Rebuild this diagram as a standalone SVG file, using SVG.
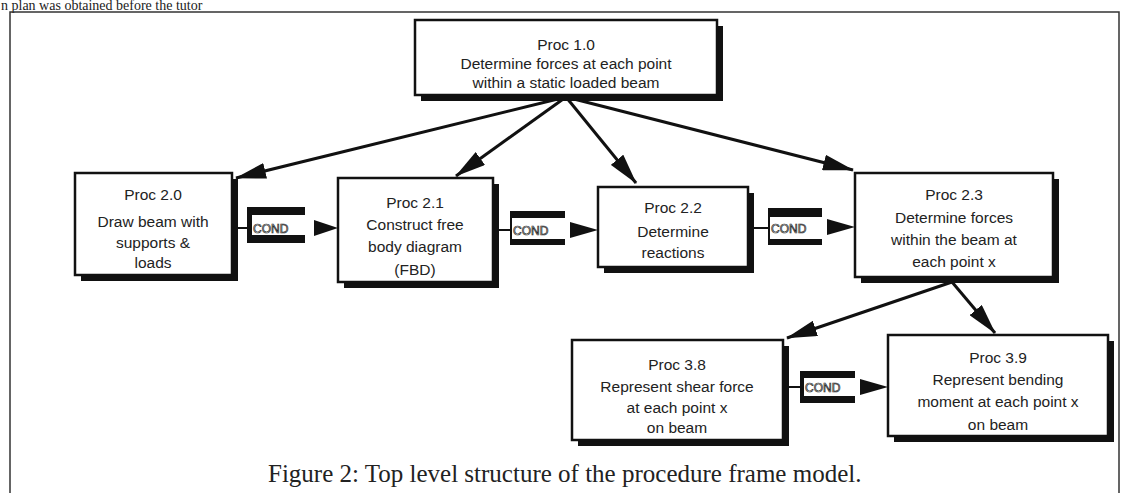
<svg xmlns="http://www.w3.org/2000/svg" width="1128" height="493" viewBox="0 0 1128 493">
<style>
.shadow{fill:#111}
.box{fill:#fff;stroke:#111;stroke-width:2.5}
.t{font-family:"Liberation Sans",Arial,sans-serif;font-size:15.5px;fill:#222;text-anchor:middle}
.cond-bar{fill:#111}
.cond-t{font-family:"Liberation Sans",Arial,sans-serif;font-size:12px;fill:#fff;stroke:#222;stroke-width:0.7}
.ln{stroke:#111;stroke-width:3;fill:none}
.thin{stroke:#111;stroke-width:2;fill:none}
.head{fill:#111}
.cap{font-family:"Liberation Serif","Times New Roman",serif;font-size:25px;fill:#222}
</style>
<defs>
<marker id="ah" markerUnits="userSpaceOnUse" markerWidth="32" markerHeight="16" refX="30" refY="8" orient="auto">
<path d="M0,0 L31,8 L0,16 Z" fill="#111"/>
</marker>
</defs>
<rect width="1128" height="493" fill="#fff"/>
<text x="1" y="10" font-family="Liberation Serif,serif" font-size="14" fill="#222">n plan was obtained before the tutor</text>
<path d="M10,493 V12 H1119 V493" fill="none" stroke="#333" stroke-width="1.5"/>

<g id="connectors">
<line class="ln" x1="566" y1="97" x2="236" y2="178" marker-end="url(#ah)"/>
<line class="ln" x1="566" y1="97" x2="456" y2="176" marker-end="url(#ah)"/>
<line class="ln" x1="566" y1="97" x2="636" y2="183" marker-end="url(#ah)"/>
<line class="ln" x1="566" y1="97" x2="853" y2="170" marker-end="url(#ah)"/>
<line class="ln" x1="952" y1="282" x2="787" y2="338" marker-end="url(#ah)"/>
<line class="ln" x1="952" y1="282" x2="995" y2="333" marker-end="url(#ah)"/>

<g id="cond1">
<line class="thin" x1="232" y1="228" x2="248" y2="228"/>
<rect class="cond-bar" x="247" y="207" width="58" height="8"/>
<rect class="cond-bar" x="247" y="235" width="58" height="8"/>
<rect class="cond-bar" x="247" y="207" width="5" height="36"/>
<text class="cond-t" x="253" y="233">COND</text>
<path class="head" d="M314,220 L338,228 L314,236 Z"/>
</g>
<g id="cond2">
<line class="thin" x1="493" y1="230" x2="511" y2="230"/>
<rect class="cond-bar" x="510" y="211" width="55" height="7"/>
<rect class="cond-bar" x="510" y="239" width="55" height="6"/>
<rect class="cond-bar" x="510" y="211" width="2" height="34"/>
<text class="cond-t" x="513" y="235">COND</text>
<path class="head" d="M570,222 L598,230 L570,238 Z"/>
</g>
<g id="cond3">
<line class="thin" x1="748" y1="228" x2="769" y2="228"/>
<rect class="cond-bar" x="768" y="208" width="54" height="9"/>
<rect class="cond-bar" x="768" y="239" width="54" height="6"/>
<rect class="cond-bar" x="768" y="208" width="2" height="37"/>
<text class="cond-t" x="771" y="233">COND</text>
<path class="head" d="M827,219 L855,227 L827,235 Z"/>
</g>
<g id="cond4">
<line class="thin" x1="783" y1="387" x2="801" y2="387"/>
<rect class="cond-bar" x="800" y="371" width="55" height="7"/>
<rect class="cond-bar" x="800" y="396" width="55" height="7"/>
<rect class="cond-bar" x="800" y="371" width="4" height="32"/>
<text class="cond-t" x="805" y="392">COND</text>
<path class="head" d="M860,379 L888,387 L860,395 Z"/>
</g>
</g>

<g id="proc1_0">
<rect class="shadow" x="421" y="26" width="302" height="75"/>
<rect class="box" x="415" y="20" width="302" height="75"/>
<text class="t" x="566" y="50">Proc 1.0</text>
<text class="t" x="566" y="69">Determine forces at each point</text>
<text class="t" x="566" y="88">within a static loaded beam</text>
</g>
<g id="proc2_0">
<rect class="shadow" x="81" y="179" width="157" height="102"/>
<rect class="box" x="75" y="173" width="157" height="102"/>
<text class="t" x="153" y="200">Proc 2.0</text>
<text class="t" x="153" y="227">Draw beam with</text>
<text class="t" x="153" y="248">supports &amp;</text>
<text class="t" x="153" y="268">loads</text>
</g>
<g id="proc2_1">
<rect class="shadow" x="344" y="184" width="155" height="104"/>
<rect class="box" x="338" y="178" width="155" height="104"/>
<text class="t" x="415" y="208">Proc 2.1</text>
<text class="t" x="415" y="230">Construct free</text>
<text class="t" x="415" y="252">body diagram</text>
<text class="t" x="415" y="275">(FBD)</text>
</g>
<g id="proc2_2">
<rect class="shadow" x="604" y="193" width="150" height="80"/>
<rect class="box" x="598" y="187" width="150" height="80"/>
<text class="t" x="673" y="213">Proc 2.2</text>
<text class="t" x="673" y="237">Determine</text>
<text class="t" x="673" y="258">reactions</text>
</g>
<g id="proc2_3">
<rect class="shadow" x="861" y="179" width="198" height="104"/>
<rect class="box" x="855" y="173" width="198" height="104"/>
<text class="t" x="954" y="200">Proc 2.3</text>
<text class="t" x="954" y="223">Determine forces</text>
<text class="t" x="954" y="245">within the beam at</text>
<text class="t" x="954" y="267">each point x</text>
</g>
<g id="proc3_8">
<rect class="shadow" x="578" y="346" width="211" height="100"/>
<rect class="box" x="572" y="340" width="211" height="100"/>
<text class="t" x="677" y="370">Proc 3.8</text>
<text class="t" x="677" y="392">Represent shear force</text>
<text class="t" x="677" y="413">at each point x</text>
<text class="t" x="677" y="433">on beam</text>
</g>
<g id="proc3_9">
<rect class="shadow" x="894" y="341" width="220" height="101"/>
<rect class="box" x="888" y="335" width="220" height="101"/>
<text class="t" x="998" y="363">Proc 3.9</text>
<text class="t" x="998" y="385">Represent bending</text>
<text class="t" x="998" y="407">moment at each point x</text>
<text class="t" x="998" y="430">on beam</text>
</g>

<text class="cap" x="268" y="482">Figure 2: Top level structure of the procedure frame model.</text>
</svg>
